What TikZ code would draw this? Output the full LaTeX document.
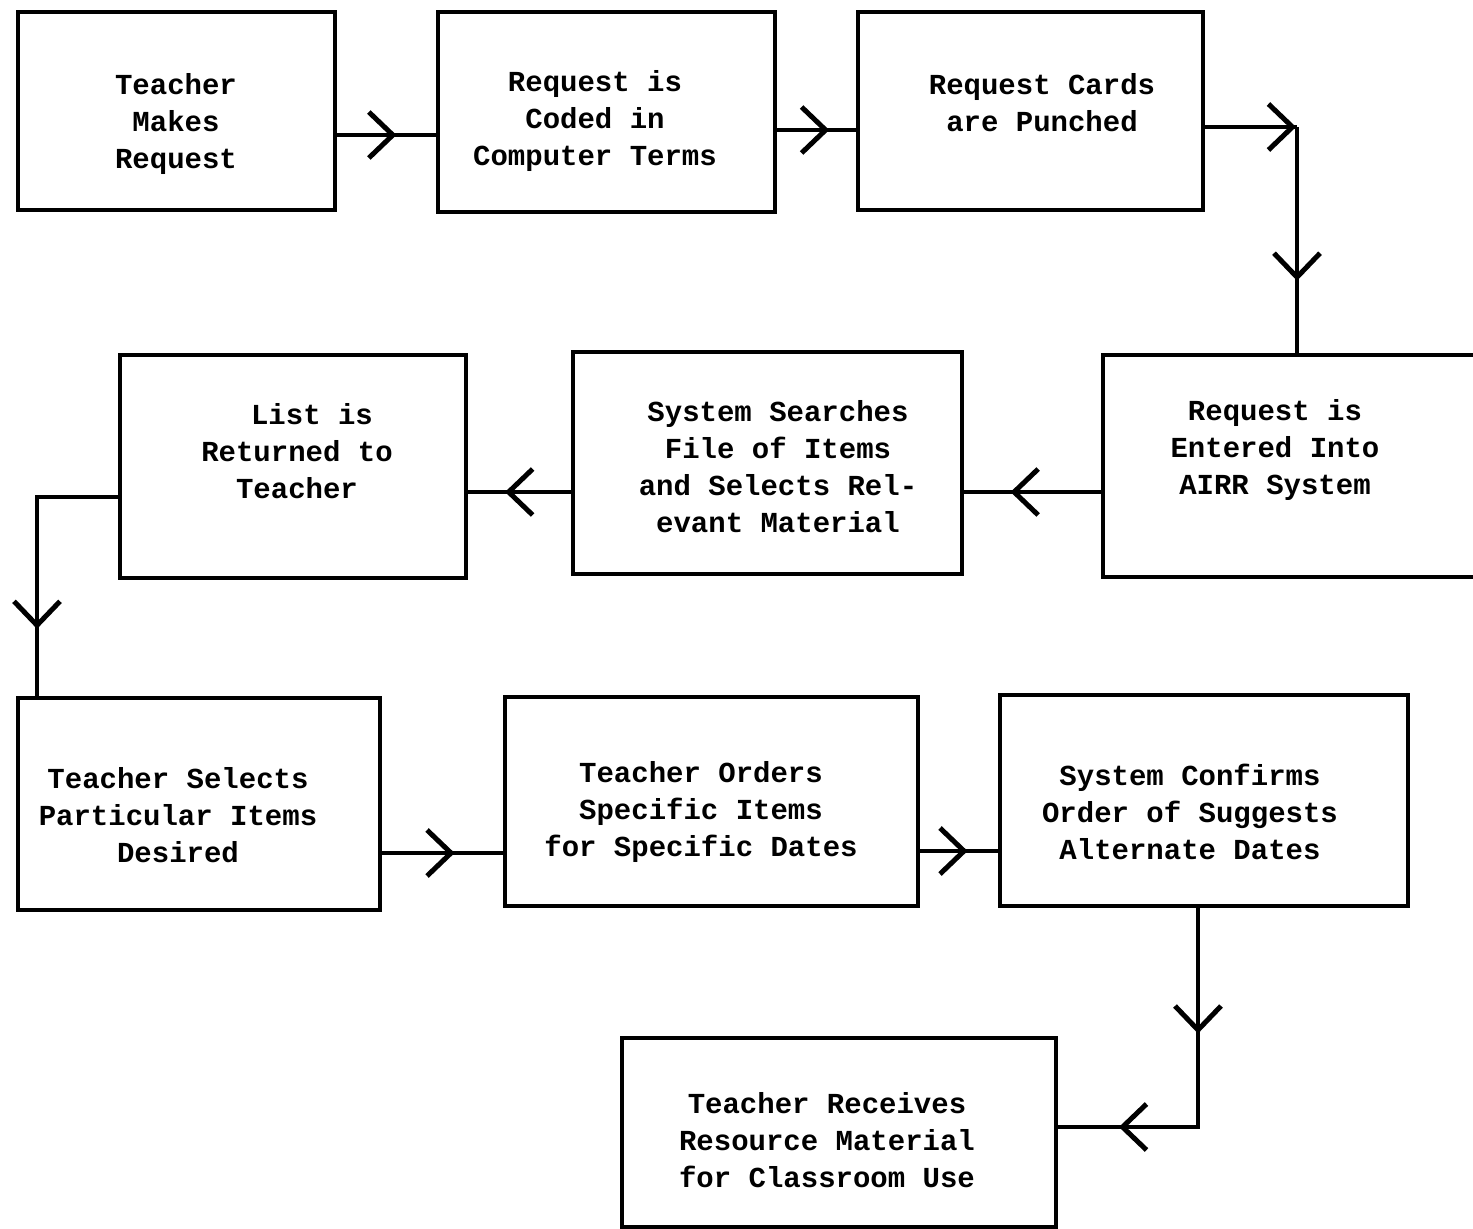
\documentclass[tikz,border=0pt]{standalone}
\usepackage{fontspec}
\setmonofont{Liberation Mono}
\usetikzlibrary{arrows.meta,decorations.markings}
\begin{document}
\begin{tikzpicture}[x=1pt,y=-1pt,
  box/.style={draw, line width=3.6pt, rectangle, inner sep=0pt},
  txt/.style={align=center, inner sep=0pt, font=\ttfamily\bfseries\fontsize{29}{37}\selectfont},
  conn/.style={line width=3.2pt},
  tipshape/.tip={Straight Barb[length=24pt,width=46pt,line width=5pt]},
  arr/.style={postaction={decorate}, decoration={markings, mark=at position #1 with {\arrow{tipshape}}}}
]
\clip (0,0) rectangle (1473,1229);
\fill[white] (0,0) rectangle (1473,1229);

% boxes
\node[box, minimum width=317pt, minimum height=198pt] (b1) at (176.5,111) {};
\node[box, minimum width=337pt, minimum height=200pt] (b2) at (606.5,112) {};
\node[box, minimum width=345pt, minimum height=198pt] (b3) at (1030.5,111) {};
\node[box, minimum width=397pt, minimum height=222pt] (b4) at (1301.5,466) {};
\node[box, minimum width=389pt, minimum height=222pt] (b5) at (767.5,463) {};
\node[box, minimum width=346pt, minimum height=223pt] (b6) at (293,466.5) {};
\node[box, minimum width=362pt, minimum height=212pt] (b7) at (199,804) {};
\node[box, minimum width=413pt, minimum height=209pt] (b8) at (711.5,801.5) {};
\node[box, minimum width=408pt, minimum height=211pt] (b9) at (1204,800.5) {};
\node[box, minimum width=434pt, minimum height=189pt] (b10) at (839,1132.5) {};

% texts
\node[txt] (t1) at (176,124) {Teacher\\Makes\\Request};
\node[txt] (t2) at (595,121) {Request is\\Coded in\\Computer Terms};
\node[txt] (t3) at (1042,103) {Request Cards\\are Punched};
\node[txt] (t4) at (1275,450) {Request is\\Entered Into\\AIRR System};
\node[txt] (t5) at (778,467) {System Searches\\File of Items\\and Selects Rel-\\evant Material};
\node[txt] (t6) at (297,451) {\hspace*{30pt}List is\\Returned to\\Teacher};
\node[txt] (t7) at (178,815) {Teacher Selects\\Particular Items\\Desired};
\node[txt] (t8) at (701,812) {Teacher Orders\\Specific Items\\for Specific Dates};
\node[txt] (t9) at (1190,812) {System Confirms\\Order of Suggests\\Alternate Dates};
\node[txt] (t10) at (827,1140) {Teacher Receives\\Resource Material\\for Classroom Use};

% corner coordinates
\coordinate (c1) at (1297,127);
\coordinate (c2) at (37,497);
\coordinate (c3) at (1198,1127);

% connectors
\draw[conn, arr=0.60] (b1.east |- 0,135) -- (b2.west |- 0,135);
\draw[conn, arr=0.66] (b2.east |- 0,130) -- (b3.west |- 0,130);
\draw[conn, arr=0.99] (b3.east |- c1) -- (c1);
\draw[conn, arr=0.68] (c1) -- (c1 |- b4.north);
\draw[conn, arr=0.66] (b4.west |- 0,492) -- (b5.east |- 0,492);
\draw[conn, arr=0.64] (b5.west |- 0,492) -- (b6.east |- 0,492);
\draw[conn, arr=0.76] (b6.west |- c2) -- (c2) -- (c2 |- b7.north);
\draw[conn, arr=0.60] (b7.east |- 0,853) -- (b8.west |- 0,853);
\draw[conn, arr=0.61] (b8.east |- 0,851) -- (b9.west |- 0,851);
\draw[conn, postaction={decorate}, decoration={markings,
    mark=at position 0.35 with {\arrow{tipshape}},
    mark=at position 0.83 with {\arrow{tipshape}}}]
  (c3 |- b9.south) -- (c3) -- (b10.east |- c3);
\end{tikzpicture}
\end{document}
